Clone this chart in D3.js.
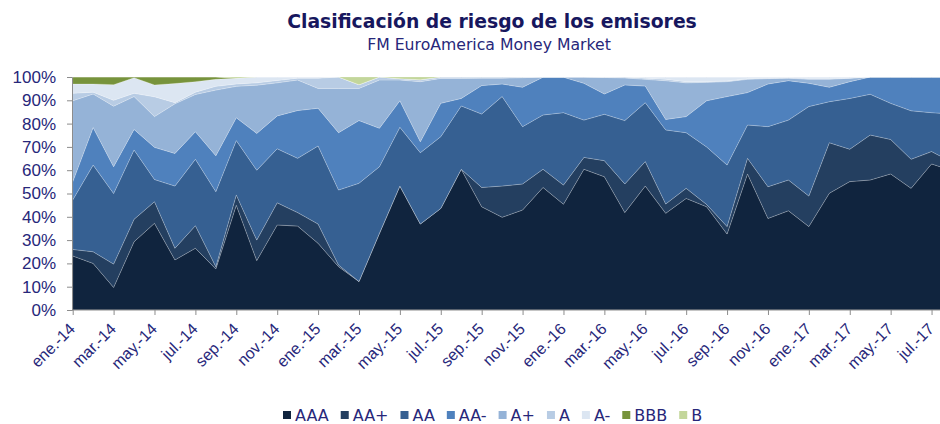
<!DOCTYPE html>
<html>
<head>
<meta charset="utf-8">
<script src="https://cdn.jsdelivr.net/npm/d3@7"></script>
<style>
  body { margin: 0; background: #fff; }
  svg { display: block; font-family: "DejaVu Sans", Verdana, sans-serif; }
</style>
</head>
<body>
<div id="chart"></div>
<script>
var months = ["ene.-14","feb.-14","mar.-14","abr.-14","may.-14","jun.-14","jul.-14","ago.-14","sep.-14","oct.-14","nov.-14","dic.-14",
  "ene.-15","feb.-15","mar.-15","abr.-15","may.-15","jun.-15","jul.-15","ago.-15","sep.-15","oct.-15","nov.-15","dic.-15",
  "ene.-16","feb.-16","mar.-16","abr.-16","may.-16","jun.-16","jul.-16","ago.-16","sep.-16","oct.-16","nov.-16","dic.-16",
  "ene.-17","feb.-17","mar.-17","abr.-17","may.-17","jun.-17","jul.-17","ago.-17"]

// % of portfolio by rating
var AAA    = [23.2,20,9.7,29.3,37.2,21.5,26.5,17.6,45,21.2,36.5,36,28.6,18.6,12.2,32.9,53.2,36.9,43.6,60.4,44.3,39.8,42.9,52.6,45.4,60.4,57.2,41.8,53.2,41.5,47.9,44.3,32.6,58.4,39.3,42.6,35.8,50.1,55.1,55.8,58.4,52.2,62.7,59.8]
var AAplus = [2.8,5,10,9.6,9.3,5,9.7,1,4.4,8.8,9.5,5.8,8.3,0.7,0,0,0,0,0,0,8.3,13.4,11.2,7.8,8.2,5.1,6.9,12.3,10.5,4,4.3,1,3.2,6.7,13.6,13.2,13.1,21.7,13.9,19.3,14.8,12.5,5.3,3.7]
var AA     = [21.2,37.2,30.3,29.8,9.5,26.7,28.5,32.2,23.3,30,23.2,23.3,33.5,32.2,42.2,28.6,25.2,30.6,30.8,27.2,31.5,38.4,24.6,23.3,31.1,16,19.9,27.2,25.3,31.8,23.9,24.7,26.4,14.3,25.8,25.7,38.4,17.6,21.8,17.5,15.5,20.8,16.7,20.7]
var AAminus= [7.8,16.1,11.5,8.8,13.8,14,11.8,15.4,9.8,15.8,14.1,20.5,16.2,24.6,26.9,16.5,11.4,4.7,14.3,3.2,12.2,5.4,16.9,16.2,15.2,15.8,8.7,15.3,7.1,4.5,6.9,19.8,29.4,13.9,18.3,16.9,10,6.2,7.2,7.4,11.3,14.5,15.3,15.8]
var Aplus  = [34.8,14.4,26,14.1,13.2,21.3,16,28.2,13.5,20.7,14.2,13.1,8.5,19,13.8,20.7,8.9,25.8,10.7,8.6,3.2,2.5,4.1,0.1,0.1,2.7,7.1,3,2.9,16.6,14.5,7.9,6.4,5.7,2.3,1.1,1.7,3.4,1.5,0,0,0,0,0]
var A      = [3.2,0.8,2.5,1.4,8.5,0.5,1,1.6,1,1,1,0.8,4.4,4.9,1.6,1.3,0.6,0.8,0.6,0.6,0.5,0.5,0.3,0,0,0,0.2,0.4,0.5,0.6,0.5,0.3,0.3,0.3,0.2,0.2,0.4,0.4,0,0,0,0,0,0]
var Aminus = [4,3.5,6.7,6.7,5.1,8.2,4.5,3,2.5,2.5,1.5,0.5,0.5,0,0,0,0,0,0,0,0,0,0,0,0,0,0,0,0.5,1,2,2,1.7,0.7,0.5,0.3,0.6,0.6,0.5,0,0,0,0,0]
var BBB    = [3,3,3.3,0.3,3.4,2.8,2,1,0,0,0,0,0,0,0,0,0,0,0,0,0,0,0,0,0,0,0,0,0,0,0,0,0,0,0,0,0,0,0,0,0,0,0,0]
var B      = [0,0,0,0,0,0,0,0,0.5,0,0,0,0,0,3.3,0,0.7,1.2,0,0,0,0,0,0,0,0,0,0,0,0,0,0,0,0,0,0,0,0,0,0,0,0,0,0]

var keys = ["AAA","AA+","AA","AA-","A+","A","A-","BBB","B"]
var series = [AAA, AAplus, AA, AAminus, Aplus, A, Aminus, BBB, B]
var colors = ["#10243e","#243f60","#366092","#4f81bd","#95b3d7","#b8cce4","#dce6f2","#77933c","#c3d69b"]
var yTicks = [0,0.1,0.2,0.3,0.4,0.5,0.6,0.7,0.8,0.9,1]

var textColor = "#27277a"

var table = months.map(function(m, i) {
  var row = {month: m}
  keys.forEach(function(k, j) { row[k] = series[j][i] })
  return row
})

var svg = d3.select("#chart").append("svg").attr("width", 940).attr("height", 424)

var x = d3.scalePoint().domain(months).range([72.7, 952])
var y = d3.scaleLinear().domain([0, 1]).range([310, 77])
var color = d3.scaleOrdinal().domain(keys).range(colors)

var stacked = d3.stack().keys(keys).offset(d3.stackOffsetExpand)(table)

var areaFunc = d3.area()
    .x(function(d) { return x(d.data.month) })
    .y0(function(d) { return y(d[0]) })
    .y1(function(d) { return y(d[1]) })

svg.append("g").selectAll("path")
  .data(stacked)
  .join("path")
    .attr("d", areaFunc)
    .attr("fill", function(d) { return color(d.key) })
    .attr("stroke", "#ffffff")
    .attr("stroke-opacity", 0.25)
    .attr("stroke-width", 0.8)

// axes
var yAxis = svg.append("g")
    .attr("transform", "translate(72,0)")
    .call(d3.axisLeft(y).tickValues(yTicks).tickFormat(d3.format(".0%")).tickSize(5).tickPadding(11))
yAxis.selectAll("line, path").attr("stroke", "#8c8c8c")
yAxis.selectAll("text").attr("fill", textColor).style("font-size", "17px")

var xAxis = svg.append("g")
    .attr("transform", "translate(0,310)")
    .call(d3.axisBottom(x).tickValues(months.filter(function(m, i) { return i % 2 == 0 })).tickSize(5))
xAxis.select(".domain").attr("d", "M72,0H940")
xAxis.selectAll("line, path").attr("stroke", "#8c8c8c")
xAxis.selectAll("text")
    .attr("fill", textColor)
    .style("font-size", "16px")
    .attr("text-anchor", "end")
    .attr("x", 0).attr("y", 0).attr("dy", "0.35em")
    .attr("transform", "translate(-1,16) rotate(-45)")

// titles
svg.append("text")
    .attr("x", 492).attr("y", 28)
    .attr("text-anchor", "middle")
    .attr("fill", "#17175e")
    .style("font-size", "18.8px")
    .style("font-weight", "bold")
    .text("Clasificación de riesgo de los emisores")

svg.append("text")
    .attr("x", 489).attr("y", 50)
    .attr("text-anchor", "middle")
    .attr("fill", "#27277a")
    .style("font-size", "15.7px")
    .text("FM EuroAmerica Money Market")

// legend
var legend = svg.append("g").attr("transform", "translate(283,415)")
var lx = 0
keys.forEach(function(k) {
  var g = legend.append("g").attr("transform", "translate(" + lx + ",0)")
  g.append("rect").attr("x", 0).attr("y", -4).attr("width", 8).attr("height", 8).attr("fill", color(k))
  var t = g.append("text").attr("x", 12).attr("y", 0).attr("dy", "0.35em")
      .attr("fill", textColor).style("font-size", "16px").text(k)
  lx += 12 + t.node().getComputedTextLength() + 12
})
</script>
</body>
</html>
